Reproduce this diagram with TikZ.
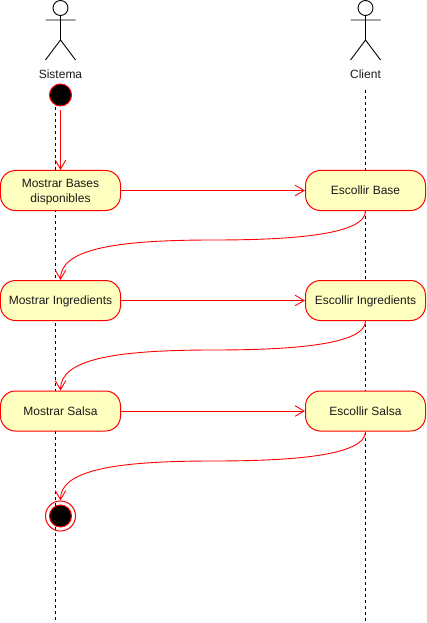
\documentclass[tikz,border=0pt]{standalone}
\usepackage{fontspec}
\setmainfont{Liberation Sans}
\usetikzlibrary{arrows.meta,calc}
\definecolor{stateRed}{HTML}{FF0000}
\definecolor{stateFill}{HTML}{FFFFC0}
\definecolor{labelInk}{HTML}{1A1A1A}
\tikzset{
  x=1bp,y=-1bp,
  statebox/.style={draw=stateRed,fill=stateFill,rounded corners=15bp,line width=1bp,minimum width=120bp,minimum height=40bp,inner sep=0pt,align=center,text=labelInk,font=\fontsize{12bp}{15bp}\selectfont},
  flow/.style={draw=stateRed,line width=0.9bp,-{Straight Barb[length=9bp,width=10.5bp,line width=0.9bp]}},
  lifeline/.style={draw=black,line width=0.9bp,dash pattern=on 3bp off 3bp},
  actorline/.style={draw=black,line width=0.9bp},
  actorlabel/.style={text=labelInk,inner sep=0pt,font=\fontsize{12bp}{14bp}\selectfont},
}
\begin{document}
\begin{tikzpicture}
\useasboundingbox (0,0) rectangle (426,623);
% lifelines
\coordinate (lifeA) at (55.5,107);
\coordinate (lifeAend) at (55.5,621);
\coordinate (lifeB) at (365.5,90);
\coordinate (lifeBend) at (365.5,621);
\draw[lifeline] (lifeA) -- (lifeAend);
\draw[lifeline] (lifeB) -- (lifeBend);
% actors
\foreach \cx/\nm/\lbl in {60.5/sis/Sistema,365.5/cli/Client}{
  \draw[actorline] (\cx,8) circle (7.5);
  \draw[actorline] (\cx,15.5) -- (\cx,40) (\cx-15,20) -- (\cx+15,20)
     (\cx-15,60) -- (\cx,40) -- (\cx+15,60);
  \node[actorlabel] (\nm) at (\cx,74.5) {\lbl};
}
% start
\node[circle,draw=stateRed,fill=black,line width=1bp,minimum size=22bp,inner sep=0pt] (start) at (60.5,95) {};
% states
\node[statebox] (a1) at (60.5,190.5) {\rule{0pt}{12bp}Mostrar Bases\\disponibles};
\node[statebox] (b1) at (365.5,190.5) {Escollir Base};
\node[statebox] (a2) at (60.5,300.5) {\rule{0pt}{11bp}Mostrar Ingredients};
\node[statebox] (b2) at (365.5,300.5) {\rule{0pt}{11bp}Escollir Ingredients};
\node[statebox] (a3) at (60.5,411) {Mostrar Salsa};
\node[statebox] (b3) at (365.5,411) {Escollir Salsa};
% end
\node[circle,draw=stateRed,fill=black,line width=1bp,minimum size=22bp,inner sep=0pt] (endin) at (60.5,516) {};
\node[circle,draw=stateRed,line width=1bp,minimum size=30bp,inner sep=0pt] (endout) at (60.5,516) {};
% connectors
\draw[flow] ($(start.south)+(0,4)$) -- (a1.north);
\draw[flow] (a1) -- (b1);
\draw[flow] (a2) -- (b2);
\draw[flow] (a3) -- (b3);
\draw[flow] (b1.south) .. controls (365.5,235) and (290,240) .. (213,240) .. controls (111,240) and (60.5,250) .. (a2.north);
\draw[flow] (b2.south) .. controls (365.5,345) and (290,350) .. (213,350) .. controls (111,350) and (60.5,360) .. (a3.north);
\draw[flow] (b3.south) .. controls (365.5,456) and (290,461) .. (213,461) .. controls (111,461) and (60.5,471) .. (endout.north);
\end{tikzpicture}
\end{document}
